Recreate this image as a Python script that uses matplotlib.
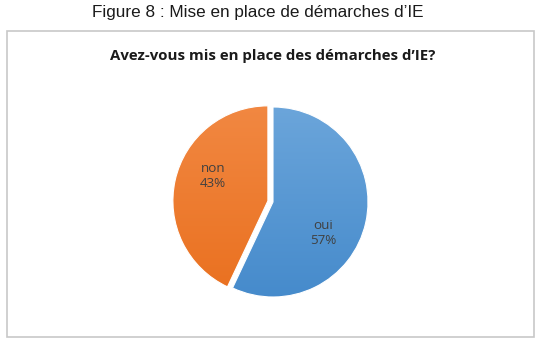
import matplotlib
matplotlib.use("Agg")
import matplotlib.pyplot as plt
from matplotlib.patches import Rectangle
import numpy as np

labels = ["oui", "non"]
values = [57, 43]
colors_top = ["#6FA8DC", "#F28A45"]
colors_bottom = ["#4288CA", "#E96E1C"]

W, H = 551, 344
fig = plt.figure(figsize=(W / 100, H / 100), dpi=100)


def fx(px):
    return px / W


def fy(py):
    return 1 - py / H


# caption above the chart
fig.text(fx(258), fy(13), "Figure 8 : Mise en place de démarches d\u2019IE",
         ha="center", va="center", fontsize=12.3, family="Liberation Sans",
         color="#1a1a1a")

# chart border
fig.patches.append(Rectangle((fx(7), fy(337)), fx(534) - fx(7), fy(31) - fy(337),
                             transform=fig.transFigure, fill=False,
                             edgecolor="#C8C8C8", linewidth=1.2))

fig.text(fx(273), fy(56), "Avez-vous mis en place des démarches d\u2019IE?",
         ha="center", va="center", fontsize=10.8, family="Open Sans",
         fontweight="bold", color="#1a1a1a")

# pie axes: center (273, 202) px, radius 95 px
cx, cy, r = 273, 202, 95
lim = 1.15
size = 2 * lim * r
ax = fig.add_axes([fx(cx - size / 2), fy(cy + size / 2), size / W, size / H])
wedges, texts = ax.pie(values, startangle=90, counterclock=False,
                       explode=[0, 0.055], colors=colors_top,
                       wedgeprops=dict(edgecolor="white", linewidth=0.8))
ax.set_aspect("equal")
ax.axis("off")

# vertical gradient inside each wedge
for w, ct, cb in zip(wedges, colors_top, colors_bottom):
    c1 = np.array(matplotlib.colors.to_rgb(ct))
    c2 = np.array(matplotlib.colors.to_rgb(cb))
    t = np.linspace(0, 1, 256)[:, None]
    grad = (c1[None, :] * (1 - t) + c2[None, :] * t)[:, None, :]
    im = ax.imshow(grad, extent=[-1.2, 1.2, -1.2, 1.2], origin="upper",
                   aspect="auto", zorder=w.get_zorder())
    im.set_clip_path(w)
    w.set_facecolor("none")
    w.set_zorder(w.get_zorder() + 0.5)
ax.set_xlim(-lim, lim)
ax.set_ylim(-lim, lim)

# data labels
label_pos = {"oui": (323, 233), "non": (213, 176)}
for lab, v in zip(labels, values):
    px, py = label_pos[lab]
    xd = (px - cx) / r
    yd = (cy - py) / r
    ax.text(xd, yd, "%s\n%d%%" % (lab, v), ha="center", va="center",
            fontsize=9.6, family="Open Sans", color="#404040",
            linespacing=1.2, zorder=10)

fig.savefig("out.png", dpi=100)
